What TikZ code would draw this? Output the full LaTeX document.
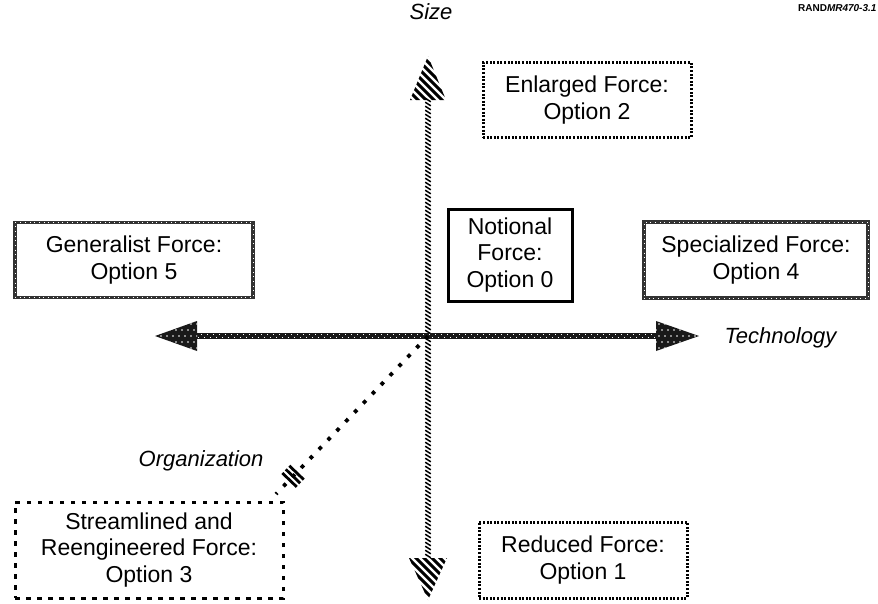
\documentclass[tikz,border=0pt]{standalone}
\usepackage{fontspec}
\setmainfont{Liberation Sans}
\usetikzlibrary{calc,decorations.markings}
\begin{document}
\begin{tikzpicture}[x=1pt,y=-1pt,font=\fontsize{23}{26.5}\selectfont,
    optbox/.style={align=center,inner sep=0pt},
    hatchbox/.style={optbox,draw,line width=3pt,dash pattern=on 2pt off 1.6pt},
    bigdashbox/.style={optbox,draw,line width=3pt,dash pattern=on 4.5pt off 6.5pt},
    speckbox/.style={optbox,draw=black!80,line width=3.6pt,
        postaction={draw=white,line width=0.7pt,dash pattern=on 0.7pt off 4pt}},
    solidbox/.style={optbox,draw,line width=3pt},
    axislabel/.style={font=\fontsize{22}{26}\selectfont\itshape}]
    \useasboundingbox (0,0) rectangle (878,603);

    \node[anchor=east,font=\fontsize{10}{11}\selectfont\bfseries] (tag) at (880,8)
        {RAND\textit{MR470-3.1}};

    % axes
    \coordinate (szup) at (428,56);
    \coordinate (szdown) at (428,600);
    \coordinate (tcleft) at (155,336);
    \coordinate (tcright) at (699,336);
    \coordinate (orgin) at (428,336);
    \coordinate (orgend) at (276,494);

    \path[decorate,decoration={markings,
        mark=between positions 0 and 1 step 4pt with
        {\draw[line width=1.5pt] (-1.8pt,-2.8pt) -- (1.8pt,2.8pt);}}]
        ($(szup)+(0,44)$) -- ($(szdown)+(0,-42)$);
    \begin{scope}
        \clip (szup) -- ++(18,44) -- ++(-36,0) -- cycle;
        \foreach \k in {-8,...,8}
            \draw[line width=3pt] ($(szup)+(-30,8*\k)$) -- ++(60,60);
    \end{scope}
    \begin{scope}
        \clip (szdown) -- ++(19,-42) -- ++(-38,0) -- cycle;
        \foreach \k in {-8,...,8}
            \draw[line width=3pt] ($(szdown)+(-30,8*\k-60)$) -- ++(60,60);
    \end{scope}

    \draw[line width=6pt,black!90] ($(tcleft)+(40,0)$) -- ($(tcright)+(-42,0)$);
    \draw[white,line width=1.2pt,dash pattern=on 1.2pt off 4.8pt]
        ($(tcleft)+(40,-1.5)$) -- ($(tcright)+(-42,-1.5)$);
    \draw[white,line width=1.2pt,dash pattern=on 1.2pt off 4.8pt,dash phase=3pt]
        ($(tcleft)+(40,1.5)$) -- ($(tcright)+(-42,1.5)$);
    \fill[black!90] (tcleft) -- ++(42,-15) -- ++(0,30) -- cycle;
    \fill[black!90] (tcright) -- ++(-43,-15) -- ++(0,30) -- cycle;
    \begin{scope}
        \clip (tcleft) -- ++(42,-15) -- ++(0,30) -- cycle
              (tcright) -- ++(-43,-15) -- ++(0,30) -- cycle;
        \foreach \i in {0,...,90}
            \foreach \j in {-3,...,3}
                \fill[white] ($(tcleft)+(6*\i+3*\j,6*\j)$) circle (0.8);
    \end{scope}

    \draw[line width=3.8pt,dash pattern=on 3.8pt off 9pt] (orgin) -- (orgend);
    \foreach \f in {0.865,0.888,0.911}
        \draw[line width=2.8pt]
            ($($(orgin)!\f!(orgend)$)!10pt!90:(orgend)$) --
            ($($(orgin)!\f!(orgend)$)!-10pt!90:(orgend)$);

    \node[axislabel] (size) at (431,12) {Size};
    \node[axislabel,anchor=west] (tech) at (721,338) {Technology};
    \node[axislabel,anchor=east] (orgn) at (267,461) {Organization};

    % options
    \node[solidbox,minimum width=124,minimum height=92] (opt0) at (510,255)
        {Notional\\Force:\\Option 0};
    \node[hatchbox,minimum width=208,minimum height=75] (opt2) at (587,100)
        {Enlarged Force:\\Option 2};
    \node[speckbox,minimum width=238,minimum height=75] (opt5) at (134,260)
        {Generalist Force:\\Option 5};
    \node[speckbox,minimum width=224,minimum height=76] (opt4) at (756,260)
        {Specialized Force:\\Option 4};
    \node[bigdashbox,minimum width=268,minimum height=96] (opt3) at (149,550)
        {Streamlined and\\Reengineered Force:\\Option 3};
    \node[hatchbox,minimum width=208,minimum height=76] (opt1) at (583,560)
        {Reduced Force:\\Option 1};
\end{tikzpicture}
\end{document}
